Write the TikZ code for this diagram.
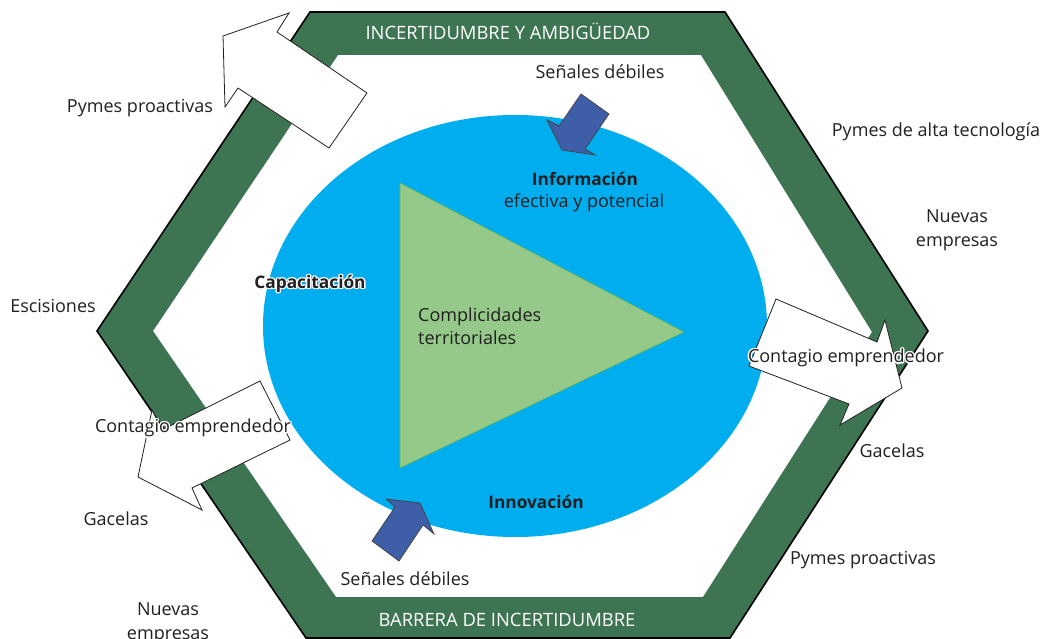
\documentclass[tikz,border=0pt]{standalone}
\usepackage{fontspec}
\setmainfont{Open Sans}
\definecolor{bandgreen}{RGB}{61,116,82}
\definecolor{sky}{RGB}{0,174,239}
\definecolor{trifill}{RGB}{148,201,137}
\definecolor{triedge}{RGB}{100,180,80}
\definecolor{navy}{RGB}{63,94,168}
\definecolor{ink}{RGB}{35,31,32}
\newcommand\halo[1]{\leavevmode
 \rlap{\kern1.4pt\textcolor{white}{#1}}%
 \rlap{\kern-1.4pt\textcolor{white}{#1}}%
 \rlap{\raisebox{1.4pt}{\textcolor{white}{#1}}}%
 \rlap{\raisebox{-1.4pt}{\textcolor{white}{#1}}}%
 \rlap{\kern1pt\raisebox{1pt}{\textcolor{white}{#1}}}%
 \rlap{\kern-1pt\raisebox{1pt}{\textcolor{white}{#1}}}%
 \rlap{\kern1pt\raisebox{-1pt}{\textcolor{white}{#1}}}%
 \rlap{\kern-1pt\raisebox{-1pt}{\textcolor{white}{#1}}}%
 #1}
\begin{document}
\begin{tikzpicture}[x=1pt,y=-1pt,
 lbl/.style={font=\fontsize{18}{23.5}\selectfont, text=ink, inner sep=0pt, align=center},
 boldlbl/.style={lbl, font=\fontsize{17.3}{23}\selectfont\bfseries},
 caplbl/.style={lbl, font=\fontsize{18.4}{23}\selectfont, text=white},
 whitearrow/.style={fill=white, draw=ink, line width=0.8pt, line join=miter},
 bluearrow/.style={fill=navy, draw=ink!85, line width=0.7pt, line join=miter}]
\useasboundingbox (0,0) rectangle (1042,639);
\fill[white] (0,0) rectangle (1042,639);
% band
\fill[bandgreen, even odd rule] (310,12) -- (725,12) -- (928,331) -- (730,638) -- (306,638) -- (97,331) -- cycle
  (338,55) -- (701,55) -- (872,332) -- (703,597) -- (336,597) -- (153,331) -- cycle;
\draw[black, line width=1.6pt, line join=miter] (310,12) -- (725,12) -- (928,331) -- (730,638) -- (306,638) -- (97,331) -- cycle;
% ellipse and triangle
\fill[sky] (515,326) ellipse [x radius=252pt, y radius=211pt];
\filldraw[fill=trifill, draw=triedge, line width=0.6pt] (400,183) -- (684,332) -- (400,468) -- cycle;
% white arrows
\draw[whitearrow] (289,13) -- (277,32) -- (367,93) -- (329,148) -- (238,88) -- (225,107) -- (223,36) -- cycle;
\draw[whitearrow] (776,299) -- (877,342) -- (885,320) -- (902,388) -- (840,425) -- (849,404) -- (749,366) -- cycle;
\draw[whitearrow] (260,381) -- (290,440) -- (192,488) -- (202,510) -- (138,477) -- (152,410) -- (162,430) -- cycle;
% blue arrows
\draw[bluearrow] (581,94) -- (609,114) -- (585,149) -- (595,155) -- (562,150) -- (547,120) -- (559,126) -- cycle;
\draw[bluearrow] (372,541) -- (399,561) -- (423,525) -- (434,534) -- (420,503) -- (386,499) -- (395,507) -- cycle;
% texts
\node[caplbl] (t1) at (508,31) {INCERTIDUMBRE Y AMBIGÜEDAD};
\node[caplbl] (t2) at (507,620) {BARRERA DE INCERTIDUMBRE};
\node[lbl] (s1) at (600,72) {Señales débiles};
\node[lbl] (s2) at (405,579) {Señales débiles};
\node[boldlbl] (inf) at (585,179) {Información};
\node[lbl] (efe) at (584,203) {efectiva y potencial};
\node[boldlbl] (capa) at (310,284) {\halo{Capacitación}};
\node[boldlbl] (inno) at (536,502) {Innovación};
\node[lbl, align=left, anchor=west] (comp) at (418,326) {Complicidades\\territoriales};
\node[lbl] (pp1) at (140,108) {Pymes proactivas};
\node[lbl] (esc) at (53,306) {Escisiones};
\node[lbl] (ce1) at (193,428) {\halo{Contagio emprendedor}};
\node[lbl] (gac1) at (116,519) {Gacelas};
\node[lbl] (ne1) at (168,623) {Nuevas\\empresas};
\node[lbl] (pat) at (936,132) {Pymes de alta tecnología};
\node[lbl] (ne2) at (957,230) {Nuevas\\empresas};
\node[lbl] (ce2) at (846,358) {\halo{Contagio emprendedor}};
\node[lbl] (gac2) at (892,451) {Gacelas};
\node[lbl] (pp2) at (863,560) {Pymes proactivas};
\end{tikzpicture}
\end{document}
